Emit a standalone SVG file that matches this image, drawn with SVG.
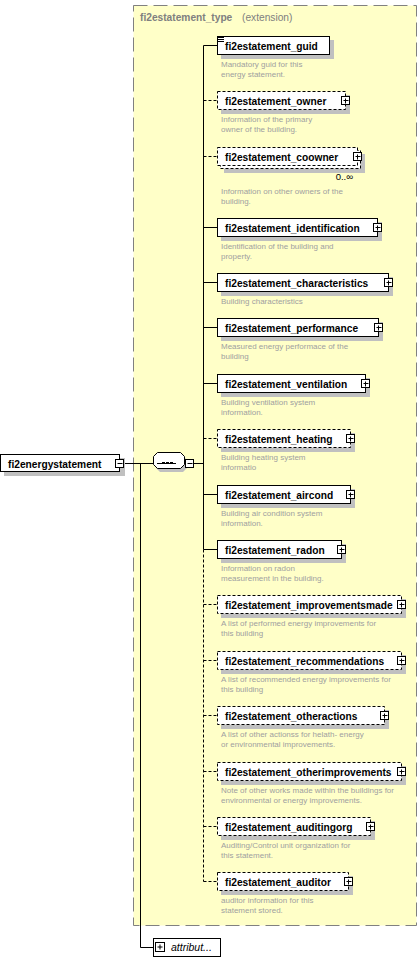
<svg xmlns="http://www.w3.org/2000/svg" width="419" height="960" viewBox="0 0 419 960">
<style>
.bg{fill:#fff}
.frame{fill:#ffffc8;stroke:#808080;stroke-width:1;stroke-dasharray:14,6}
.box{fill:#fff;stroke:#000;stroke-width:1}
.opt{stroke-dasharray:3,2}
.sh{fill:#c0c0c0}
.ln{stroke:#000;stroke-width:1;fill:none}
.dl{stroke-dasharray:3,2}
.name{font-family:"Liberation Sans",Arial,sans-serif;font-size:10.2px;font-weight:bold;fill:#000}
.desc{font-family:"Liberation Sans",Arial,sans-serif;font-size:8px;fill:#a0a0a0}
.title{font-family:"Liberation Sans",Arial,sans-serif;font-size:10.2px;fill:#808080}
.pm{fill:#fff;stroke:#000;stroke-width:1}
</style>
<defs>
<g id="plus"><rect class="pm" x="-3.5" y="-3.5" width="8" height="8"/><path class="ln" d="M-1.5,0.5H3.5M0.5,-1.5V3.5"/></g>
</defs>
<rect class="bg" x="0" y="0" width="419" height="960"/>
<g id="type-frame">
<rect class="frame" x="133.5" y="5.5" width="283" height="920"/>
<text class="title" x="140" y="20.5"><tspan font-weight="bold">fi2estatement_type</tspan><tspan x="242">(extension)</tspan></text>
</g>
<g id="connectors">
<path class="ln" d="M123.5,463.5H153.5"/>
<path class="ln" d="M140.5,463.5V947.5H153.5"/>
<path class="ln" d="M193.5,463.5H203.5"/>
<path class="ln" d="M203.5,45.5V549.5"/>
<path class="ln dl" d="M203.5,549.5V881.5"/>
<path class="ln" d="M203.5,45.5H217.5"/>
<path class="ln dl" d="M203.5,100.5H217.5"/>
<path class="ln dl" d="M203.5,156.5H217.5"/>
<path class="ln" d="M203.5,227.5H217.5"/>
<path class="ln" d="M203.5,282.5H217.5"/>
<path class="ln" d="M203.5,327.5H217.5"/>
<path class="ln" d="M203.5,383.5H217.5"/>
<path class="ln dl" d="M203.5,438.5H217.5"/>
<path class="ln" d="M203.5,494.5H217.5"/>
<path class="ln" d="M203.5,549.5H217.5"/>
<path class="ln dl" d="M203.5,604.5H217.5"/>
<path class="ln dl" d="M203.5,660.5H217.5"/>
<path class="ln dl" d="M203.5,715.5H217.5"/>
<path class="ln dl" d="M203.5,771.5H217.5"/>
<path class="ln dl" d="M203.5,826.5H217.5"/>
<path class="ln dl" d="M203.5,881.5H217.5"/>
</g>
<g id="fi2energystatement">
<rect class="sh" x="4" y="458" width="121" height="18"/>
<rect class="box" x="0.5" y="454.5" width="119" height="17"/>
<text class="name" x="8" y="467.5">fi2energystatement</text>
<rect class="pm" x="115.5" y="459.5" width="8" height="8"/>
<path class="ln" d="M117.5,463.5H122.5"/>
</g>
<g id="sequence">
<path class="sh" d="M160,456H183L187,460V468L183,472H160L156,468V460Z"/>
<path class="box" d="M157.5,452.5H180.5L184.5,456.5V464.5L180.5,468.5H157.5L153.5,464.5V456.5Z"/>
<path class="ln" d="M157,463.5H176"/>
<rect x="162" y="462" width="3" height="2" fill="#000"/>
<rect x="166" y="462" width="3" height="2" fill="#000"/>
<rect x="170" y="462" width="3" height="2" fill="#000"/>
<rect class="pm" x="185.5" y="459.5" width="8" height="8"/>
<path class="ln" d="M187.5,463.5H192.5"/>
</g>
<g id="guid">
<rect class="sh" x="221" y="40" width="113" height="19"/>
<rect class="box" x="217.5" y="36.5" width="112" height="18"/>
<path class="ln" d="M218,37.5H224M218,39.5H224M218,41.5H224"/>
<text class="name" x="225" y="50">fi2estatement_guid</text>
<text class="desc" x="221" y="67">Mandatory guid for this</text>
<text class="desc" x="221" y="77">energy statement.</text>
</g>
<g id="owner">
<rect class="sh" x="221" y="95" width="129" height="19"/>
<rect class="box opt" x="217.5" y="91.5" width="128" height="18"/>
<use href="#plus" x="345" y="100"/>
<text class="name" x="225" y="105">fi2estatement_owner</text>
<text class="desc" x="221" y="122">Information of the primary</text>
<text class="desc" x="221" y="132">owner of the building.</text>
</g>
<g id="coowner">
<rect class="sh" x="224" y="154" width="141" height="19"/>
<rect class="box opt" x="220.5" y="150.5" width="140" height="18"/>
<rect class="box opt" x="217.5" y="147.5" width="140" height="18"/>
<use href="#plus" x="357" y="156"/>
<text class="name" x="225" y="161">fi2estatement_coowner</text>
<text font-family="Liberation Sans,Arial,sans-serif" font-size="9.5px" fill="#000" x="353" y="179.5" text-anchor="end">0..∞</text>
<text class="desc" x="221" y="194">Information on other owners of the</text>
<text class="desc" x="221" y="204">building.</text>
</g>
<g id="identification">
<rect class="sh" x="221" y="222" width="161" height="19"/>
<rect class="box" x="217.5" y="218.5" width="160" height="18"/>
<use href="#plus" x="377" y="227"/>
<text class="name" x="225" y="232">fi2estatement_identification</text>
<text class="desc" x="221" y="249">Identification of the building and</text>
<text class="desc" x="221" y="259">property.</text>
</g>
<g id="characteristics">
<rect class="sh" x="221" y="277" width="172" height="19"/>
<rect class="box" x="217.5" y="273.5" width="171" height="18"/>
<use href="#plus" x="388" y="282"/>
<text class="name" x="225" y="287">fi2estatement_characteristics</text>
<text class="desc" x="221" y="304">Building characteristics</text>
</g>
<g id="performance">
<rect class="sh" x="221" y="322" width="162" height="19"/>
<rect class="box" x="217.5" y="318.5" width="161" height="18"/>
<use href="#plus" x="378" y="327"/>
<text class="name" x="225" y="332">fi2estatement_performance</text>
<text class="desc" x="221" y="349">Measured energy performace of the</text>
<text class="desc" x="221" y="359">building</text>
</g>
<g id="ventilation">
<rect class="sh" x="221" y="378" width="149" height="19"/>
<rect class="box" x="217.5" y="374.5" width="148" height="18"/>
<use href="#plus" x="365" y="383"/>
<text class="name" x="225" y="388">fi2estatement_ventilation</text>
<text class="desc" x="221" y="405">Building ventilation system</text>
<text class="desc" x="221" y="415">information.</text>
</g>
<g id="heating">
<rect class="sh" x="221" y="433" width="134" height="19"/>
<rect class="box opt" x="217.5" y="429.5" width="133" height="18"/>
<use href="#plus" x="350" y="438"/>
<text class="name" x="225" y="443">fi2estatement_heating</text>
<text class="desc" x="221" y="460">Building heating system</text>
<text class="desc" x="221" y="470">informatio</text>
</g>
<g id="aircond">
<rect class="sh" x="221" y="489" width="134" height="19"/>
<rect class="box" x="217.5" y="485.5" width="133" height="18"/>
<use href="#plus" x="350" y="494"/>
<text class="name" x="225" y="499">fi2estatement_aircond</text>
<text class="desc" x="221" y="516">Building air condition system</text>
<text class="desc" x="221" y="526">information.</text>
</g>
<g id="radon">
<rect class="sh" x="221" y="544" width="125" height="19"/>
<rect class="box" x="217.5" y="540.5" width="124" height="18"/>
<use href="#plus" x="341" y="549"/>
<text class="name" x="225" y="554">fi2estatement_radon</text>
<text class="desc" x="221" y="571">Information on radon</text>
<text class="desc" x="221" y="581">measurement in the building.</text>
</g>
<g id="improvementsmade">
<rect class="sh" x="221" y="599" width="185" height="19"/>
<rect class="box opt" x="217.5" y="595.5" width="184" height="18"/>
<use href="#plus" x="401" y="604"/>
<text class="name" x="225" y="609">fi2estatement_improvementsmade</text>
<text class="desc" x="221" y="626">A list of performed energy improvements for</text>
<text class="desc" x="221" y="636">this building</text>
</g>
<g id="recommendations">
<rect class="sh" x="221" y="655" width="185" height="19"/>
<rect class="box opt" x="217.5" y="651.5" width="184" height="18"/>
<use href="#plus" x="401" y="660"/>
<text class="name" x="225" y="665">fi2estatement_recommendations</text>
<text class="desc" x="221" y="682">A list of recommended energy improvements for</text>
<text class="desc" x="221" y="692">this building</text>
</g>
<g id="otheractions">
<rect class="sh" x="221" y="710" width="168" height="19"/>
<rect class="box opt" x="217.5" y="706.5" width="167" height="18"/>
<use href="#plus" x="384" y="715"/>
<text class="name" x="225" y="720">fi2estatement_otheractions</text>
<text class="desc" x="221" y="737">A list of other actionss for helath- energy</text>
<text class="desc" x="221" y="747">or environmental improvements.</text>
</g>
<g id="otherimprovements">
<rect class="sh" x="221" y="766" width="185" height="19"/>
<rect class="box opt" x="217.5" y="762.5" width="184" height="18"/>
<use href="#plus" x="401" y="771"/>
<text class="name" x="225" y="776">fi2estatement_otherimprovements</text>
<text class="desc" x="221" y="793">Note of other works made within the buildings for</text>
<text class="desc" x="221" y="803">environmental or energy improvements.</text>
</g>
<g id="auditingorg">
<rect class="sh" x="221" y="821" width="154" height="19"/>
<rect class="box opt" x="217.5" y="817.5" width="153" height="18"/>
<use href="#plus" x="370" y="826"/>
<text class="name" x="225" y="831">fi2estatement_auditingorg</text>
<text class="desc" x="221" y="848">Auditing/Control unit organization for</text>
<text class="desc" x="221" y="858">this statement.</text>
</g>
<g id="auditor">
<rect class="sh" x="221" y="876" width="132" height="19"/>
<rect class="box opt" x="217.5" y="872.5" width="131" height="18"/>
<use href="#plus" x="348" y="881"/>
<text class="name" x="225" y="886">fi2estatement_auditor</text>
<text class="desc" x="221" y="903">auditor information for this</text>
<text class="desc" x="221" y="913">statement stored.</text>
</g>
<g id="attributes">
<rect class="box" x="153.5" y="938.5" width="67" height="18"/>
<rect class="pm" x="155.5" y="942.5" width="9" height="9"/>
<path class="ln" d="M157.5,947H162.5M160,944.5V949.5"/>
<text font-family="Liberation Sans,Arial,sans-serif" font-size="10.5px" font-style="italic" fill="#000" x="171" y="951">attribut...</text>
</g>
</svg>
